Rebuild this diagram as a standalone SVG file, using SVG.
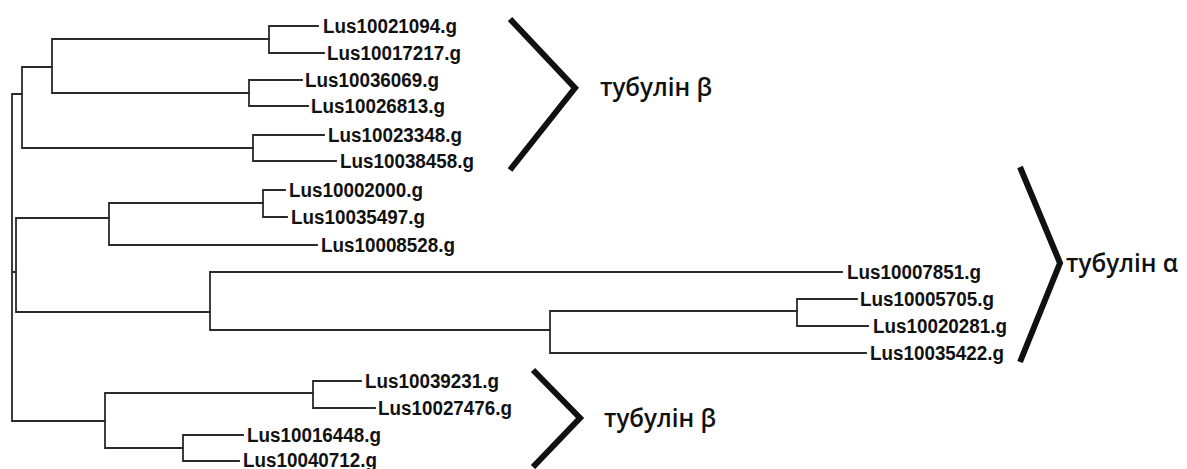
<svg xmlns="http://www.w3.org/2000/svg" width="1187" height="469" viewBox="0 0 1187 469">
<style>
.e{stroke:#2a2a2a;stroke-width:1.8;fill:none;stroke-linecap:square}
.lbl{font-family:"Liberation Sans",Arial,sans-serif;font-weight:bold;font-size:20px;fill:#111}
.br{stroke:#111;stroke-width:6;fill:none;stroke-linejoin:miter}
.cl{font-family:"Open Sans","Noto Sans",sans-serif;font-weight:600;font-size:25px;fill:#111}
</style>
<rect width="1187" height="469" fill="#fff"/>
<g id="connectors">
<path class="e" d="M12 94V421M12 94H22M12 272H16M12 421H105"/>
<path class="e" d="M22 67V148M22 67H52M22 148H253"/>
<path class="e" d="M52 39V93M52 39H269M52 93H249"/>
<path class="e" d="M269 26V53M269 26H318M269 53H324"/>
<path class="e" d="M249 80V106M249 80H302M249 106H308"/>
<path class="e" d="M253 135V161M253 135H324M253 161H336"/>
<path class="e" d="M16 218V312M16 218H109M16 312H210"/>
<path class="e" d="M109 203V245M109 203H263M109 245H317"/>
<path class="e" d="M263 190V217M263 190H285M263 217H287"/>
<path class="e" d="M210 272V330M210 272H842M210 330H550"/>
<path class="e" d="M550 311V353M550 311H797M550 353H866"/>
<path class="e" d="M797 299V326M797 299H857M797 326H868"/>
<path class="e" d="M105 393V448M105 393H313M105 448H183"/>
<path class="e" d="M313 381V408M313 381H361M313 408H375"/>
<path class="e" d="M183 435V461M183 435H243M183 461H239"/>
</g>
<g id="leaves">
<text class="lbl" x="323" y="33" textLength="134" lengthAdjust="spacingAndGlyphs">Lus10021094.g</text>
<text class="lbl" x="327" y="60" textLength="134" lengthAdjust="spacingAndGlyphs">Lus10017217.g</text>
<text class="lbl" x="305" y="87" textLength="134" lengthAdjust="spacingAndGlyphs">Lus10036069.g</text>
<text class="lbl" x="311" y="113" textLength="134" lengthAdjust="spacingAndGlyphs">Lus10026813.g</text>
<text class="lbl" x="328" y="142" textLength="134" lengthAdjust="spacingAndGlyphs">Lus10023348.g</text>
<text class="lbl" x="340" y="168" textLength="134" lengthAdjust="spacingAndGlyphs">Lus10038458.g</text>
<text class="lbl" x="289" y="197" textLength="134" lengthAdjust="spacingAndGlyphs">Lus10002000.g</text>
<text class="lbl" x="291" y="224" textLength="134" lengthAdjust="spacingAndGlyphs">Lus10035497.g</text>
<text class="lbl" x="321" y="252" textLength="134" lengthAdjust="spacingAndGlyphs">Lus10008528.g</text>
<text class="lbl" x="847" y="279" textLength="134" lengthAdjust="spacingAndGlyphs">Lus10007851.g</text>
<text class="lbl" x="860" y="306" textLength="134" lengthAdjust="spacingAndGlyphs">Lus10005705.g</text>
<text class="lbl" x="873" y="333" textLength="134" lengthAdjust="spacingAndGlyphs">Lus10020281.g</text>
<text class="lbl" x="870" y="360" textLength="134" lengthAdjust="spacingAndGlyphs">Lus10035422.g</text>
<text class="lbl" x="365" y="388" textLength="134" lengthAdjust="spacingAndGlyphs">Lus10039231.g</text>
<text class="lbl" x="378" y="415" textLength="134" lengthAdjust="spacingAndGlyphs">Lus10027476.g</text>
<text class="lbl" x="247" y="442" textLength="134" lengthAdjust="spacingAndGlyphs">Lus10016448.g</text>
<text class="lbl" x="243" y="467" textLength="134" lengthAdjust="spacingAndGlyphs">Lus10040712.g</text>
</g>
<g id="group-beta-top">
<polyline class="br" points="510,19 575,88 510,170"/>
<text class="cl" x="600" y="96" textLength="112" lengthAdjust="spacingAndGlyphs">тубулін β</text>
</g>
<g id="group-alpha">
<polyline class="br" points="1020,167 1060,263 1020,362"/>
<text class="cl" x="1066" y="272" textLength="112" lengthAdjust="spacingAndGlyphs">тубулін α</text>
</g>
<g id="group-beta-bottom">
<polyline class="br" points="533,370 580,418 533,467"/>
<text class="cl" x="604" y="427" textLength="112" lengthAdjust="spacingAndGlyphs">тубулін β</text>
</g>
</svg>
